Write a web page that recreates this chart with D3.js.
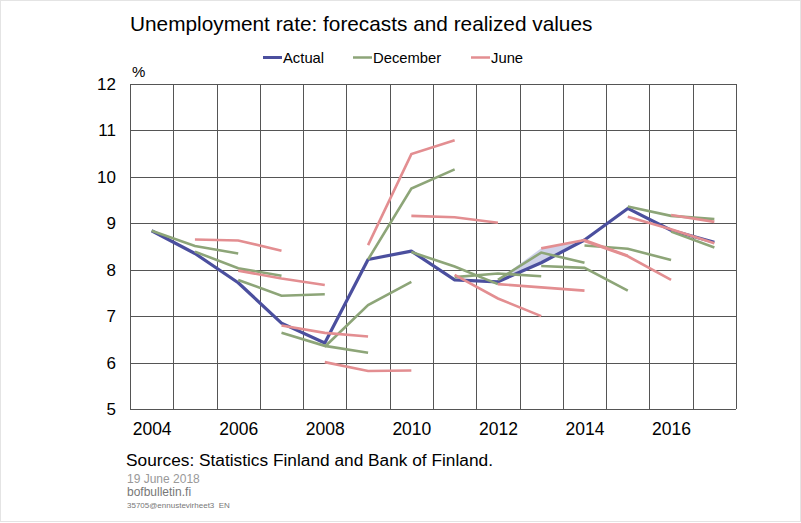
<!DOCTYPE html>
<html>
<head>
<meta charset="utf-8">
<script src="https://cdn.jsdelivr.net/npm/d3@7"></script>
<style>
  body { margin: 0; background: #fff; }
  svg { font-family: "Liberation Sans", Arial, sans-serif; }
</style>
</head>
<body>
<svg id="chart" width="801" height="523"></svg>
<script>
// data
var years = [2004, 2005, 2006, 2007, 2008, 2009, 2010, 2011, 2012, 2013, 2014, 2015, 2016, 2017]
var actual = [8.84, 8.35, 7.72, 6.85, 6.42, 8.22, 8.40, 7.78, 7.74, 8.15, 8.64, 9.32, 8.85, 8.59]

// December forecasts: first year of each path, then the values
var decStart = [2004, 2005, 2006, 2007, 2008, 2009, 2010, 2011, 2012, 2013, 2014, 2015, 2016]
var decValues = [
  [8.84, 8.51, 8.35],
  [8.39, 8.03, 7.87],
  [7.78, 7.44, 7.47],
  [6.64, 6.36, 6.21],
  [6.34, 7.24, 7.74],
  [8.22, 9.75, 10.16],
  [8.38, 8.07, 7.69],
  [7.84, 7.92, 7.86],
  [7.78, 8.37, 8.15],
  [8.08, 8.04, 7.55],
  [8.52, 8.45, 8.21],
  [9.36, 9.16, 9.09],
  [8.82, 8.48]
]

// June forecasts
var junStart = [2005, 2006, 2007, 2008, 2009, 2010, 2011, 2012, 2013, 2014, 2015, 2016]
var junValues = [
  [8.65, 8.63, 8.41],
  [7.98, 7.81, 7.67],
  [6.80, 6.64, 6.56],
  [6.01, 5.82, 5.83],
  [8.53, 10.49, 10.79],
  [9.16, 9.13, 9.01],
  [7.89, 7.38, 7.00],
  [7.69, 7.62, 7.55],
  [8.46, 8.64, 8.30],
  [8.62, 8.29, 7.78],
  [9.14, 8.87, 8.57],
  [9.18, 9.03]
]

// light shaded patch around 2012-2014
var shadeYears = [2012, 2013, 2014]
var shadeLow = [7.74, 8.15, 8.64]
var shadeHigh = [7.78, 8.46, 8.64]

var yTicks = [5, 6, 7, 8, 9, 10, 11, 12]
var xLabels = [2004, 2006, 2008, 2010, 2012, 2014, 2016]
var legendNames = ['Actual', 'December', 'June']

var color = {Actual: '#4b4f9e', December: '#8da578', June: '#e38e91'}

var svg = d3.select('#chart')
var pL = 130, pR = 736, pT = 84, pB = 409

var x = d3.scaleLinear().domain([2003.5, 2017.5]).range([pL, pR])
var y = d3.scaleLinear().domain([5, 12]).range([pB, pT])

// faint outer frame
svg.append('rect').attr('x', 0.5).attr('y', 0.5).attr('width', 800).attr('height', 521)
  .attr('fill', 'none').attr('stroke', '#e4e4e4')

// title
svg.append('text').attr('x', 130).attr('y', 31).attr('font-size', 20.8).attr('fill', '#000')
  .text('Unemployment rate: forecasts and realized values')

// legend
legendNames.forEach(function (n, i) {
  var lx = [263, 353, 471][i]
  svg.append('line').attr('x1', lx).attr('x2', lx + 19).attr('y1', 57.5).attr('y2', 57.5)
    .attr('stroke', color[n]).attr('stroke-width', n == 'Actual' ? 3 : 2.5)
  svg.append('text').attr('x', lx + 20).attr('y', 63).attr('font-size', 14.8).text(n)
})

svg.append('text').attr('x', 132).attr('y', 77).attr('font-size', 15).text('%')

// grid: horizontal via y axis
var yAxis = d3.axisLeft(y).tickValues(yTicks).tickFormat(d3.format('d')).tickSize(-(pR - pL)).tickPadding(14)
var gy = svg.append('g').attr('transform', 'translate(' + pL + ',0)').call(yAxis)
gy.select('.domain').remove()
gy.selectAll('line').attr('stroke', '#555').attr('shape-rendering', 'crispEdges')
gy.selectAll('text').attr('font-size', 17).attr('fill', '#000')
  .attr('font-family', '"Liberation Sans", Arial, sans-serif')

// vertical gridlines on year boundaries
var bounds = [years[0] - 0.5].concat(years.map(function (d) { return d + 0.5 }))
svg.append('g').selectAll('line').data(bounds).join('line')
  .attr('x1', d => Math.round(x(d)) + 0.5).attr('x2', d => Math.round(x(d)) + 0.5)
  .attr('y1', pT).attr('y2', pB)
  .attr('stroke', '#555')

// x labels
var xAxis = d3.axisBottom(x).tickValues(xLabels).tickFormat(d3.format('d')).tickSize(0).tickPadding(14)
var gx = svg.append('g').attr('transform', 'translate(0,' + pB + ')').call(xAxis)
gx.select('.domain').remove()
gx.selectAll('text').attr('font-size', 17.5).attr('fill', '#000')
  .attr('font-family', '"Liberation Sans", Arial, sans-serif')

// shaded patch
var area = d3.area().x(d => x(d.year)).y0(d => y(d.lo)).y1(d => y(d.hi))
svg.append('path')
  .datum(shadeYears.map(function (yr, i) { return {year: yr, lo: shadeLow[i], hi: shadeHigh[i]} }))
  .attr('d', area).attr('fill', '#cfd2ea')

var line = d3.line().x(d => x(d.year)).y(d => y(d.value))

// actual
svg.append('path')
  .datum(years.map(function (yr, i) { return {year: yr, value: actual[i]} }))
  .attr('d', line).attr('fill', 'none').attr('stroke', color.Actual).attr('stroke-width', 3.2)
  .attr('stroke-linejoin', 'round')

function drawForecasts(starts, values, col) {
  starts.forEach(function (s, i) {
    svg.append('path')
      .datum(values[i].map(function (v, k) { return {year: s + k, value: v} }))
      .attr('d', line).attr('fill', 'none').attr('stroke', col).attr('stroke-width', 2.6)
  })
}
drawForecasts(decStart, decValues, color.December)
drawForecasts(junStart, junValues, color.June)

// footer
svg.append('text').attr('x', 126).attr('y', 466).attr('font-size', 17.3).text('Sources: Statistics Finland and Bank of Finland.')
svg.append('text').attr('x', 127).attr('y', 483).attr('font-size', 12).attr('fill', '#999').text('19 June 2018')
svg.append('text').attr('x', 127).attr('y', 496).attr('font-size', 12).attr('fill', '#777').text('bofbulletin.fi')
svg.append('text').attr('x', 127).attr('y', 508).attr('font-size', 8).attr('fill', '#777')
  .style('white-space', 'pre').text('35705@ennustevirheet3  EN')
</script>
</body>
</html>
